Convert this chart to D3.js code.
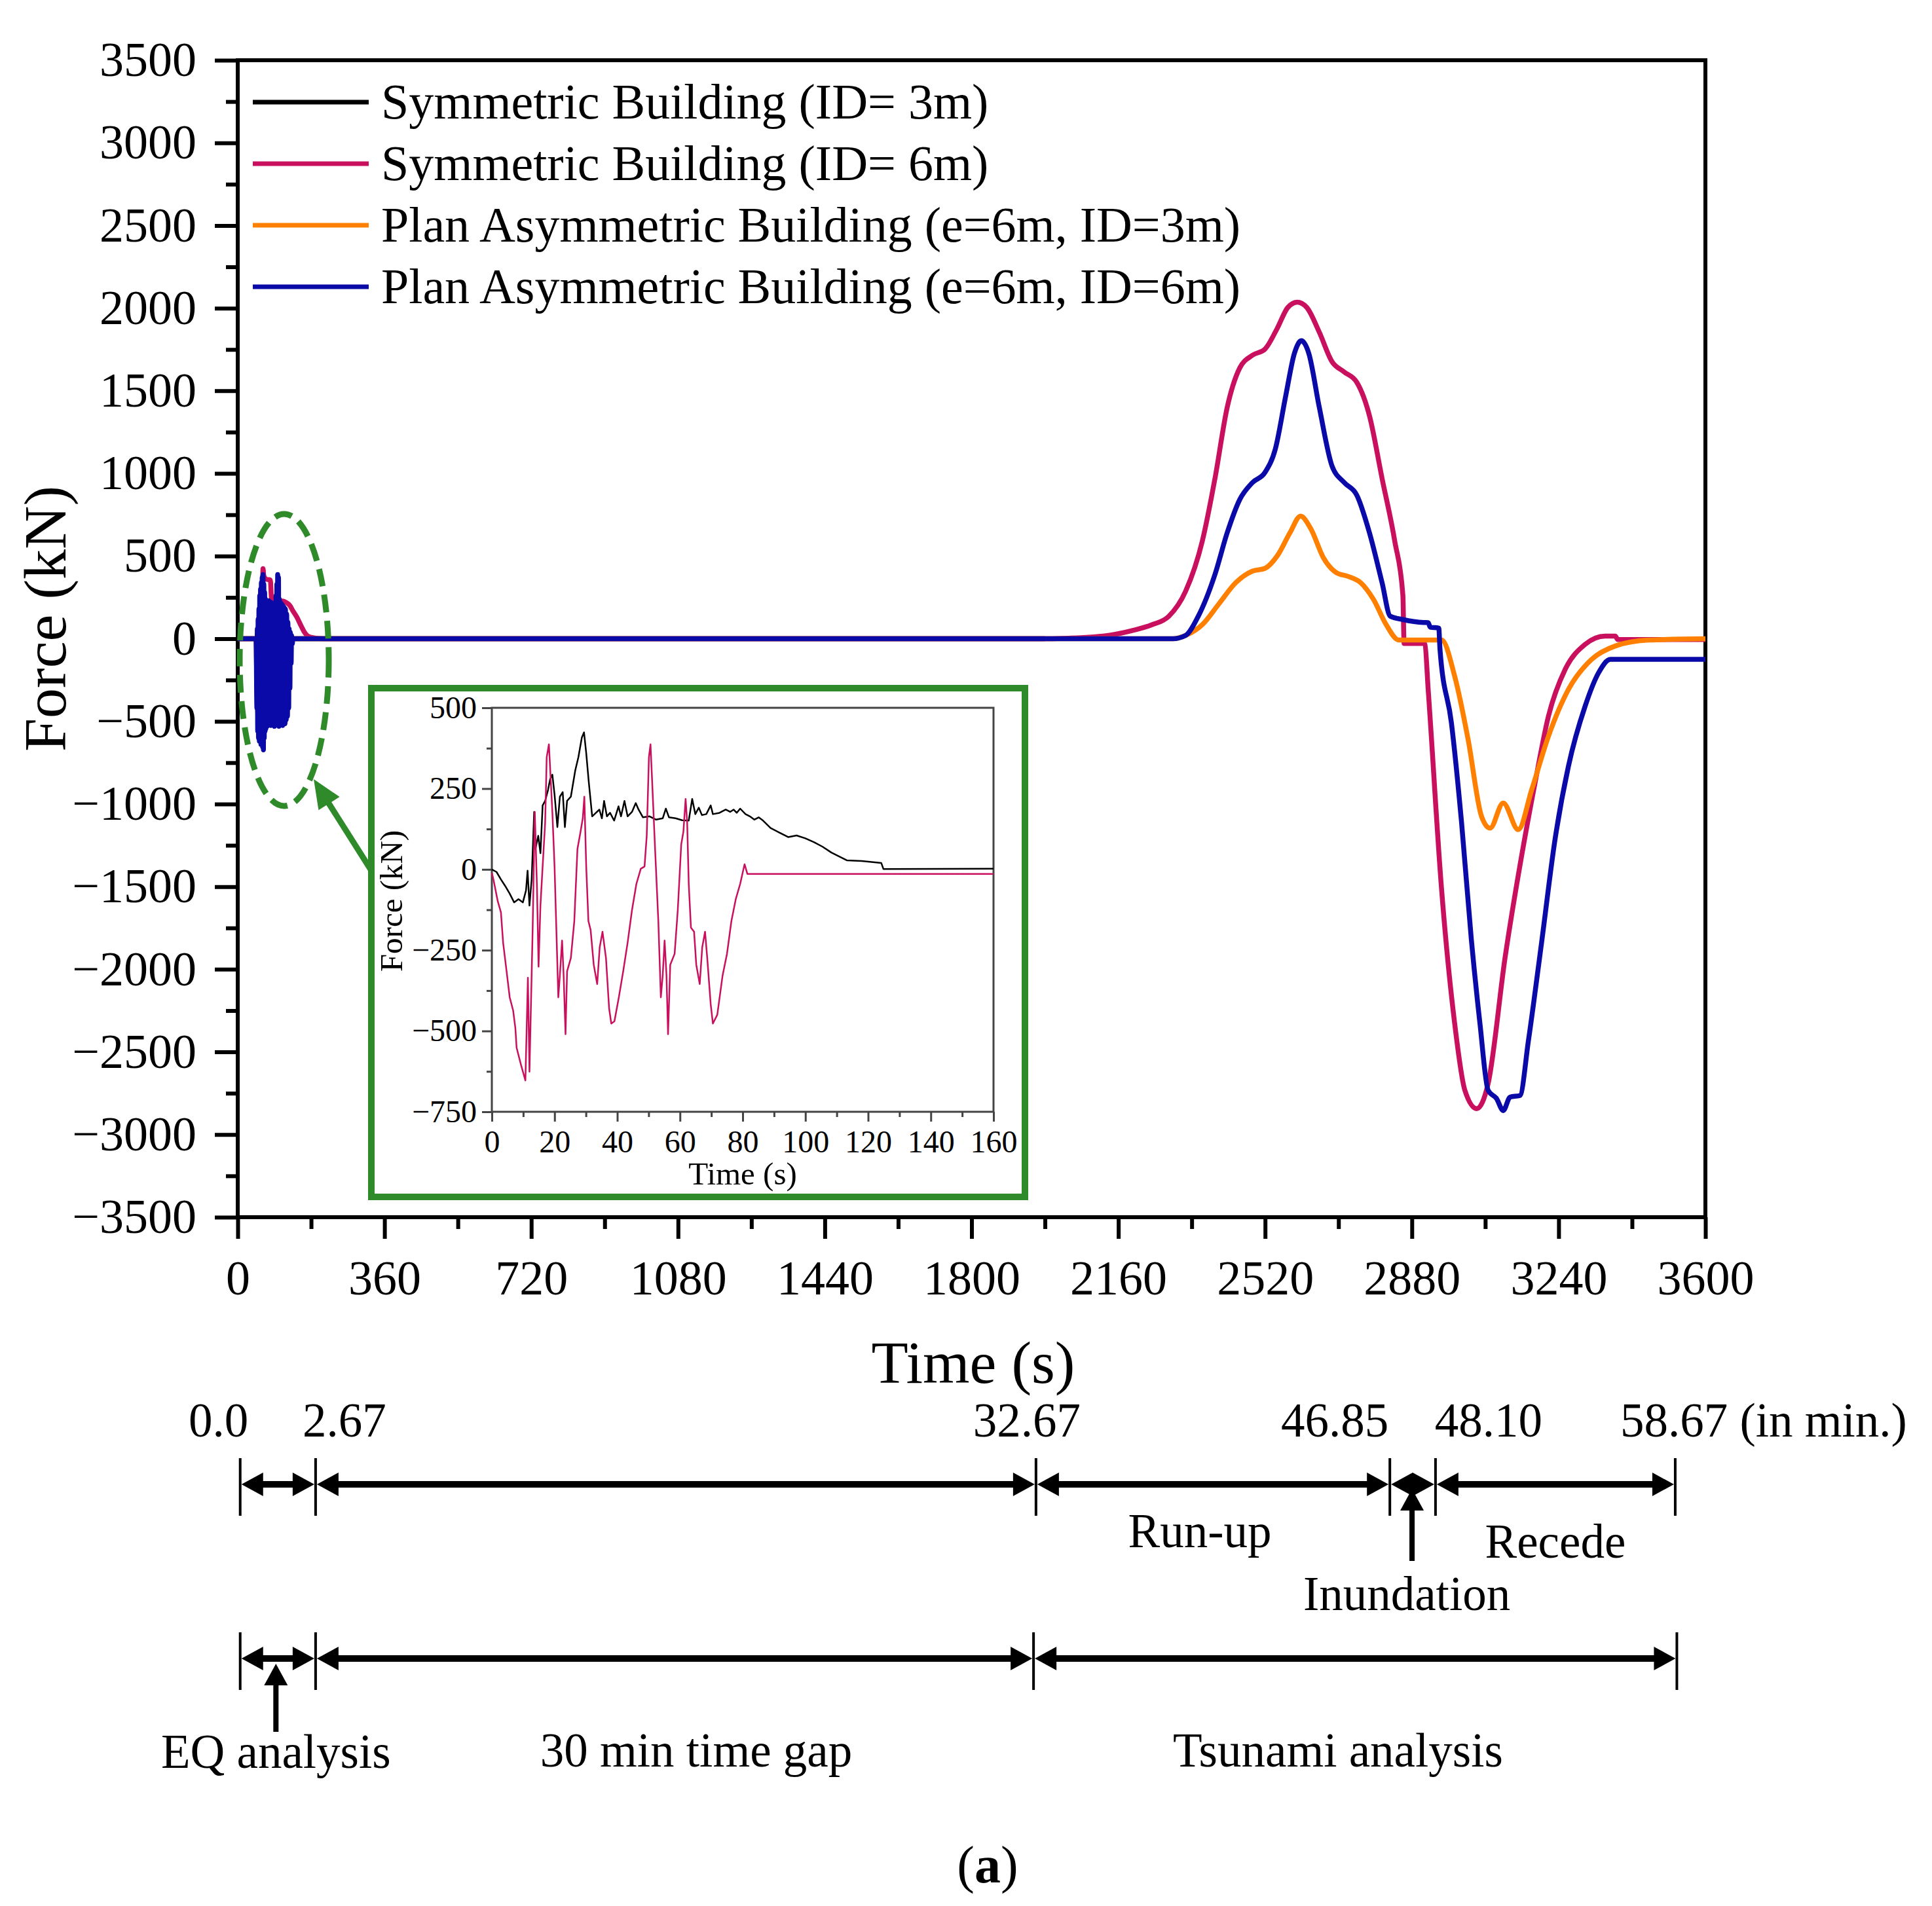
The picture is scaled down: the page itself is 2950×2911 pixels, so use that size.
<!DOCTYPE html>
<html>
<head>
<meta charset="utf-8">
<script src="https://cdn.jsdelivr.net/npm/d3@7"></script>
<style>
  body { margin: 0; background: #fff; }
  svg text { font-family: "Liberation Serif", "Times New Roman", serif; fill: #000; }
</style>
</head>
<body>
<svg id="chart" width="2950" height="2911"></svg>
<script>
// ---- data ----
const seriesNames = [
  "Symmetric Building (ID= 3m)",
  "Symmetric Building (ID= 6m)",
  "Plan Asymmetric Building (e=6m, ID=3m)",
  "Plan Asymmetric Building (e=6m, ID=6m)"
];
const seriesColors = ["#000000", "#c8105f", "#ff8000", "#0a0aa8"];

// main plot, [time s, force kN]
// (black trace is hidden behind the others wherever it is drawn)
const symID3 = [[0, 0], [1980, 0]];
const symID6 = [
  [0, 0], [45, 0], [47, -300], [55, -600], [60, 100], [62, 424], [64, 380], [70, 360], [80, 355],
  [83, 240], [100, 230], [110, 228], [118, 220], [128, 200], [135, 170], [146, 126], [155, 80],
  [163, 42], [170, 20], [180, 8], [209, 0],
  [1987, 0], [2038, 3], [2141, 22], [2192, 48], [2243, 85], [2284, 136], [2325, 287], [2366, 591],
  [2397, 969], [2427, 1399], [2458, 1639], [2489, 1715], [2520, 1753], [2550, 1879], [2576, 2005],
  [2599, 2036], [2622, 2005], [2653, 1854], [2684, 1677], [2714, 1614], [2745, 1551], [2776, 1349],
  [2807, 969], [2838, 591], [2858, 262], [2861, -29], [2909, -29], [2912, -34], [2920, -307],
  [2953, -1520], [2985, -2328], [3010, -2732], [3039, -2843], [3067, -2692], [3109, -1923],
  [3149, -1317], [3182, -874], [3215, -469], [3256, -186], [3305, -34], [3354, 16], [3379, 16],
  [3385, -5], [3600, -5]
];
const asymID3 = [
  [0, 0], [2294, 0], [2325, 20], [2366, 85], [2407, 212], [2448, 339], [2489, 409], [2520, 426],
  [2550, 502], [2581, 641], [2607, 742], [2632, 666], [2663, 490], [2694, 401], [2725, 376],
  [2755, 338], [2786, 237], [2817, 85], [2848, -8], [2953, -8], [2985, -227], [3018, -610],
  [3051, -1076], [3072, -1146], [3104, -994], [3141, -1155], [3174, -913], [3215, -590],
  [3264, -307], [3321, -125], [3379, -44], [3461, -8], [3600, 0]
];
const asymID6 = [
  [0, 0], [45, 0], [47, -420], [48, 60], [49, -560], [50, 120], [51, -600], [52, 180], [53, -620],
  [54, 260], [55, -590], [56, 300], [57, -640], [58, 340], [59, -610], [60, 370], [61, -655],
  [62, 388], [63, -672], [64, 330], [65, -600], [66, 280], [67, -560], [68, 240], [69, -545],
  [70, 225], [72, -530], [73, 210], [75, -520], [76, 230], [78, -510], [79, 200], [81, -525],
  [82, 220], [84, -500], [85, 190], [87, -515], [88, 215], [90, -530], [91, 200], [93, -505],
  [94, 260], [95, -480], [96, 330], [97, -470], [98, 388], [99, -500], [100, 370], [101, -530],
  [102, 240], [104, -520], [105, 220], [107, -510], [108, 210], [110, -525], [111, 200],
  [113, -500], [114, 190], [116, -515], [117, 180], [119, -490], [120, 150], [122, -470],
  [123, 100], [125, -420], [126, 60], [128, -300], [129, 40], [131, -150], [132, 20], [134, -30],
  [135, 0],
  [2294, 0], [2325, 20], [2356, 136], [2397, 389], [2427, 641], [2458, 843], [2489, 945],
  [2520, 1007], [2545, 1147], [2571, 1475], [2592, 1728], [2609, 1803], [2627, 1728], [2653, 1399],
  [2684, 1046], [2714, 945], [2745, 868], [2776, 641], [2807, 338], [2827, 136], [2858, 116],
  [2909, 98], [2920, 97], [2925, 70], [2946, 64], [2949, -65], [2977, -509], [3002, -1115],
  [3026, -1823], [3047, -2328], [3067, -2732], [3088, -2783], [3104, -2855], [3121, -2773],
  [3145, -2764], [3166, -2430], [3199, -1823], [3231, -1217], [3264, -772], [3305, -408],
  [3338, -206], [3367, -125], [3600, -125]
];
const mainSeries = [symID3, symID6, asymID3, asymID6];

// inset (EQ phase), [time s, force kN]
const insetID3 = [
  [0, 0], [1.5, -8], [2.9, -31], [4.3, -52], [5.7, -75], [7.1, -102], [8.5, -92], [9.9, -102],
  [10.9, -65], [11.4, -4], [12, -112], [12.7, -31], [13.5, 178], [13.9, 63], [14.8, 104],
  [15.5, 50], [16.2, 198], [17, 212], [17.9, 245], [18.6, 279], [19.3, 293], [20, 232],
  [20.9, 131], [21.7, 225], [22.6, 239], [23.3, 131], [24, 212], [25.2, 225], [26.6, 306],
  [27.6, 347], [28.7, 408], [29.4, 424], [30.1, 360], [30.9, 272], [32, 164], [33.2, 175],
  [34.3, 185], [35.1, 158], [35.8, 212], [36.7, 164], [37.7, 175], [39, 151], [40.4, 195],
  [41.2, 164], [42.3, 212], [43.3, 164], [44.7, 178], [45.9, 205], [46.8, 185], [48.2, 161],
  [50.3, 164], [52.4, 154], [54.5, 158], [55.5, 188], [56.5, 161], [58.6, 158], [60.7, 152],
  [62.8, 151], [63.9, 218], [64.9, 171], [66, 191], [67, 168], [68.4, 171], [69.8, 198],
  [70.5, 171], [72.6, 175], [74.6, 185], [76, 178], [77.1, 185], [78.1, 175], [79.2, 188],
  [80.9, 171], [82.3, 164], [83.7, 154], [85.1, 161], [86.5, 151], [88.9, 128], [91.5, 115],
  [94.5, 100], [97.2, 105], [100, 96], [102.8, 84], [105.5, 70], [108.3, 52], [110.8, 40],
  [113.2, 28], [118, 26], [124.2, 20], [124.9, 1], [160, 2]
];
const insetID6 = [
  [0, -11], [0.5, -31], [1.9, -99], [2.9, -133], [3.6, -227], [4.7, -315], [5.7, -396],
  [6.8, -437], [7.5, -491], [7.9, -552], [9.3, -605], [10.7, -653], [11.5, -335], [12, -626],
  [13, -193], [13.7, 178], [14.4, -58], [14.9, -301], [15.5, -112], [16.2, 9], [17, 144],
  [17.5, 347], [18.2, 387], [18.7, 293], [19.3, 178], [20, 9], [20.7, -227], [21.2, -396],
  [21.7, -328], [22.4, -220], [22.9, -328], [23.5, -510], [24, -315], [25.2, -274], [26.3, -160],
  [27.3, 63], [28.3, 117], [29, 158], [29.5, 225], [30.1, 9], [30.8, -160], [31.5, -187],
  [32.5, -295], [33.6, -355], [34.4, -241], [35.3, -193], [36.4, -274], [37.4, -430],
  [38.1, -477], [39.1, -470], [40.5, -396], [41.9, -315], [43.3, -227], [44.7, -126], [46.1, -45],
  [47.5, 2], [48.7, 9], [49.4, 104], [50.1, 347], [50.6, 387], [51.1, 279], [52, 77],
  [53.1, -160], [53.9, -396], [54.5, -328], [55.1, -220], [55.7, -328], [56.2, -510],
  [56.9, -295], [58.3, -261], [59.3, -126], [60.4, 77], [61.1, 117], [61.8, 218], [62.3, 144],
  [62.8, -45], [63.5, -180], [64.5, -193], [65.2, -295], [66.3, -355], [67.1, -241], [68, -193],
  [68.7, -274], [69.8, -417], [70.5, -477], [71.9, -450], [73.6, -328], [75, -261], [76.4, -160],
  [77.8, -92], [79.2, -45], [80.6, 16], [81.5, -14], [160, -14]
];

// timeline annotation (minutes), and where the marks sit on the time axis (s)
const rowOneLabels = ["0.0", "2.67", "32.67", "46.85", "48.10", "58.67"];
const rowOneMarks = [6, 191, 1958, 2826, 2938, 3526];
const rowOnePhases = ["Run-up", "Inundation", "Recede"];
const rowTwoMarks = [6, 191, 1952, 3530];
const rowTwoPhases = ["EQ analysis", "30 min time gap", "Tsunami analysis"];

const fmt = d => d < 0 ? "\u2212" + Math.abs(d) : String(d);

// ---- chart ----
const svg = d3.select("#chart");
svg.append("rect").attr("width", 2950).attr("height", 2911).attr("fill", "#fff");

const x = d3.scaleLinear().domain([0, 3600]).range([363, 2604]);
const y = d3.scaleLinear().domain([-3500, 3500]).range([1859, 92]);

function styleAxis(g, width, size, color) {
  g.select(".domain").remove();
  g.selectAll(".tick line").attr("stroke", color || "#000").attr("stroke-width", width);
  g.selectAll(".tick text").attr("font-size", size).attr("font-family", null);
}

// y axis
svg.append("g").attr("transform", "translate(363,0)")
  .call(d3.axisLeft(y).tickValues(d3.range(-3250, 3500, 500)).tickSize(18).tickFormat(""))
  .call(g => styleAxis(g, 6, 0));
svg.append("g").attr("transform", "translate(363,0)")
  .call(d3.axisLeft(y).tickValues(d3.range(-3500, 3501, 500)).tickSize(35).tickPadding(28).tickFormat(fmt))
  .call(g => styleAxis(g, 6, 74));

// x axis
svg.append("g").attr("transform", "translate(0,1859)")
  .call(d3.axisBottom(x).tickValues(d3.range(180, 3600, 360)).tickSize(18).tickFormat(""))
  .call(g => styleAxis(g, 6, 0));
svg.append("g").attr("transform", "translate(0,1859)")
  .call(d3.axisBottom(x).tickValues(d3.range(0, 3601, 360)).tickSize(33).tickFormat(fmt))
  .call(g => styleAxis(g, 6, 74))
  .call(g => g.selectAll(".tick text").attr("y", 118).attr("dy", 0));

svg.append("rect").attr("x", 363).attr("y", 92).attr("width", 2604 - 363).attr("height", 1859 - 92)
  .attr("fill", "none").attr("stroke", "#000").attr("stroke-width", 6);

svg.append("text").attr("x", 1486).attr("y", 2112).attr("text-anchor", "middle")
  .attr("font-size", 92).text("Time (s)");
svg.append("text").attr("transform", "translate(100,945) rotate(-90)").attr("text-anchor", "middle")
  .attr("font-size", 92).text("Force (kN)");

// curves
const line = d3.line().x(d => x(d[0])).y(d => y(d[1])).curve(d3.curveMonotoneX);
svg.append("g").selectAll("path").data(mainSeries).join("path")
  .attr("d", line).attr("fill", "none")
  .attr("stroke", (d, i) => seriesColors[i]).attr("stroke-width", 7.5)
  .attr("stroke-linejoin", "round");

// legend
const legend = svg.append("g").selectAll("g").data(seriesNames).join("g")
  .attr("transform", (d, i) => `translate(0,${156 + i * 94})`);
legend.append("line").attr("x1", 386).attr("x2", 563)
  .attr("stroke", (d, i) => seriesColors[i]).attr("stroke-width", 7);
legend.append("text").attr("x", 582).attr("dy", "0.33em").attr("font-size", 76).text(d => d);

// zoom highlight
const green = "#2f8a2a";
svg.append("ellipse").attr("cx", 434).attr("cy", 1008).attr("rx", 68).attr("ry", 223)
  .attr("fill", "none").attr("stroke", green).attr("stroke-width", 9).attr("stroke-dasharray", "27,13");
svg.append("line").attr("x1", 566).attr("y1", 1328).attr("x2", 497).attr("y2", 1219)
  .attr("stroke", green).attr("stroke-width", 9);
{
  const tip = [479, 1190], ang = Math.atan2(1328 - 1190, 566 - 479);
  const L = 44, H = 19, bx = tip[0] + L * Math.cos(ang), by = tip[1] + L * Math.sin(ang);
  const px = -Math.sin(ang) * H, py = Math.cos(ang) * H;
  svg.append("path").attr("d", `M${tip}L${bx + px},${by + py}L${bx - px},${by - py}Z`).attr("fill", green);
}

// inset
svg.append("rect").attr("x", 567).attr("y", 1051).attr("width", 998).attr("height", 777)
  .attr("fill", "#fff").attr("stroke", green).attr("stroke-width", 10);

const xi = d3.scaleLinear().domain([0, 160]).range([751, 1517]);
const yi = d3.scaleLinear().domain([-750, 500]).range([1698, 1081]);

svg.append("g").attr("transform", "translate(751,0)")
  .call(d3.axisLeft(yi).tickValues(d3.range(-625, 500, 250)).tickSize(8).tickFormat(""))
  .call(g => styleAxis(g, 3, 0, "#444"));
svg.append("g").attr("transform", "translate(751,0)")
  .call(d3.axisLeft(yi).tickValues(d3.range(-750, 501, 250)).tickSize(15).tickPadding(8).tickFormat(fmt))
  .call(g => styleAxis(g, 3, 48, "#444"));
svg.append("g").attr("transform", "translate(0,1698)")
  .call(d3.axisBottom(xi).tickValues(d3.range(10, 160, 20)).tickSize(8).tickFormat(""))
  .call(g => styleAxis(g, 3, 0, "#444"));
svg.append("g").attr("transform", "translate(0,1698)")
  .call(d3.axisBottom(xi).tickValues(d3.range(0, 161, 20)).tickSize(15).tickFormat(fmt))
  .call(g => styleAxis(g, 3, 48, "#444"))
  .call(g => g.selectAll(".tick text").attr("y", 62).attr("dy", 0));
svg.append("rect").attr("x", 751).attr("y", 1081).attr("width", 1517 - 751).attr("height", 1698 - 1081)
  .attr("fill", "none").attr("stroke", "#444").attr("stroke-width", 3);

const lineI = d3.line().x(d => xi(d[0])).y(d => yi(d[1]));
svg.append("g").selectAll("path").data([insetID3, insetID6]).join("path")
  .attr("d", lineI).attr("fill", "none")
  .attr("stroke", (d, i) => seriesColors[i]).attr("stroke-width", 2.5)
  .attr("stroke-linejoin", "round");

svg.append("text").attr("x", 1134).attr("y", 1809).attr("text-anchor", "middle")
  .attr("font-size", 49).text("Time (s)");
svg.append("text").attr("transform", "translate(614,1376) rotate(-90)").attr("text-anchor", "middle")
  .attr("font-size", 49).text("Force (kN)");

// ---- timeline below the chart ----
const tl = svg.append("g");
function arrowHead(g, tx, ty, dir) {
  // dir: +1 points right, -1 points left, "up" points up
  const L = 33, H = 18;
  let d;
  if (dir === "up") d = `M${tx},${ty}L${tx - H},${ty + L}L${tx + H},${ty + L}Z`;
  else d = `M${tx},${ty}L${tx - dir * L},${ty - H}L${tx - dir * L},${ty + H}Z`;
  g.append("path").attr("d", d).attr("fill", "#000");
}
function arrowRow(marks, cy) {
  const px = marks.map(m => x(m));
  px.forEach(p => tl.append("line").attr("x1", p).attr("x2", p).attr("y1", cy - 40).attr("y2", cy + 48)
    .attr("stroke", "#000").attr("stroke-width", 4));
  d3.pairs(px).forEach(([a, b]) => {
    tl.append("line").attr("x1", a + 20).attr("x2", b - 20).attr("y1", cy).attr("y2", cy)
      .attr("stroke", "#000").attr("stroke-width", 10);
    arrowHead(tl, a + 2, cy, -1);
    arrowHead(tl, b - 2, cy, 1);
  });
  return px;
}

const r1 = arrowRow(rowOneMarks, 2267);
const r2 = arrowRow(rowTwoMarks, 2533);

// minute labels, nudged sideways where the marks are close
const labelShift = [-33, 44, -14, -84, 81, 0];
rowOneLabels.forEach((t, i) => {
  const txt = tl.append("text").attr("y", 2194).attr("font-size", 73);
  if (i === rowOneLabels.length - 1) {
    txt.attr("x", r1[i] - 84).attr("text-anchor", "start").text(t + " (in min.)");
  } else {
    txt.attr("x", r1[i] + labelShift[i]).attr("text-anchor", "middle").text(t);
  }
});

// phase labels, row one
tl.append("text").attr("x", (r1[2] + r1[3]) / 2 - 20).attr("y", 2363).attr("text-anchor", "middle")
  .attr("font-size", 73).text(rowOnePhases[0]);
tl.append("text").attr("x", (r1[4] + r1[5]) / 2).attr("y", 2379).attr("text-anchor", "middle")
  .attr("font-size", 73).text(rowOnePhases[2]);
const inX = (r1[3] + r1[4]) / 2 - 1;
tl.append("line").attr("x1", inX).attr("x2", inX).attr("y1", 2300).attr("y2", 2384)
  .attr("stroke", "#000").attr("stroke-width", 8);
arrowHead(tl, inX, 2274, "up");
tl.append("text").attr("x", inX - 8).attr("y", 2459).attr("text-anchor", "middle")
  .attr("font-size", 73).text(rowOnePhases[1]);

// phase labels, row two
const eqX = (r2[0] + r2[1]) / 2 - 3;
tl.append("line").attr("x1", eqX).attr("x2", eqX).attr("y1", 2570).attr("y2", 2645)
  .attr("stroke", "#000").attr("stroke-width", 8);
arrowHead(tl, eqX, 2541, "up");
tl.append("text").attr("x", eqX).attr("y", 2700).attr("text-anchor", "middle")
  .attr("font-size", 73).text(rowTwoPhases[0]);
tl.append("text").attr("x", 1063).attr("y", 2698).attr("text-anchor", "middle")
  .attr("font-size", 73).text(rowTwoPhases[1]);
tl.append("text").attr("x", 2043).attr("y", 2698).attr("text-anchor", "middle")
  .attr("font-size", 73).text(rowTwoPhases[2]);

// panel tag
const tag = svg.append("text").attr("x", 1508).attr("y", 2875).attr("text-anchor", "middle").attr("font-size", 80);
tag.append("tspan").text("(");
tag.append("tspan").attr("font-weight", "bold").text("a");
tag.append("tspan").text(")");
</script>
</body>
</html>
